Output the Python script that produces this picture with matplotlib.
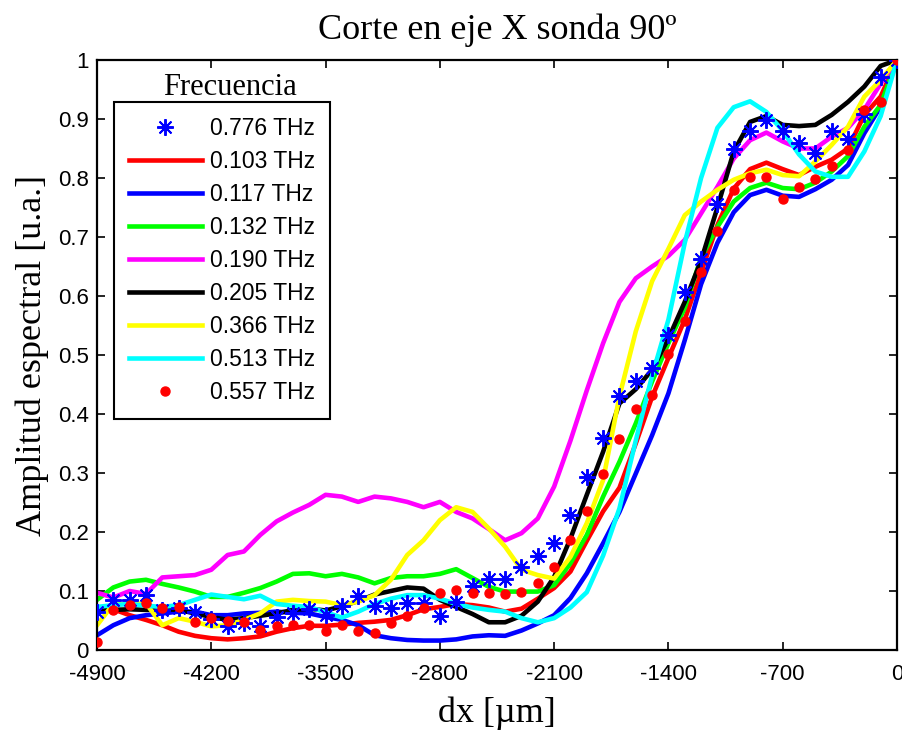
import numpy as np
import matplotlib
matplotlib.use("Agg")
import matplotlib.pyplot as plt

# Spatial positions along the X cut (µm)
dx = np.arange(-4900, 1, 100)

# Normalised spectral amplitude for each frequency
amp_0776 = [0.065, 0.085, 0.085, 0.094, 0.068, 0.071, 0.065, 0.052, 0.040, 0.046,
            0.041, 0.056, 0.062, 0.069, 0.059, 0.075, 0.092, 0.075, 0.071, 0.080,
            0.080, 0.058, 0.082, 0.108, 0.121, 0.121, 0.141, 0.159, 0.181, 0.228,
            0.294, 0.359, 0.431, 0.456, 0.478, 0.534, 0.606, 0.662, 0.756, 0.849,
            0.880, 0.899, 0.880, 0.859, 0.843, 0.879, 0.866, 0.908, 0.972, 1.000]
amp_0103 = [0.073, 0.069, 0.059, 0.051, 0.042, 0.031, 0.024, 0.020, 0.018, 0.020,
            0.023, 0.031, 0.037, 0.041, 0.041, 0.043, 0.046, 0.048, 0.051, 0.059,
            0.069, 0.073, 0.078, 0.076, 0.072, 0.065, 0.070, 0.087, 0.105, 0.133,
            0.185, 0.235, 0.275, 0.350, 0.429, 0.495, 0.560, 0.640, 0.720, 0.782,
            0.815, 0.826, 0.815, 0.805, 0.819, 0.831, 0.850, 0.907, 0.938, 1.000]
amp_0117 = [0.025, 0.042, 0.054, 0.059, 0.062, 0.065, 0.065, 0.059, 0.059, 0.062,
            0.063, 0.065, 0.063, 0.062, 0.056, 0.051, 0.042, 0.025, 0.020, 0.017,
            0.016, 0.016, 0.018, 0.023, 0.025, 0.024, 0.033, 0.045, 0.059, 0.088,
            0.130, 0.181, 0.234, 0.299, 0.364, 0.435, 0.525, 0.620, 0.690, 0.742,
            0.771, 0.780, 0.770, 0.768, 0.781, 0.797, 0.822, 0.876, 0.921, 1.000]
amp_0132 = [0.085, 0.106, 0.116, 0.119, 0.112, 0.106, 0.099, 0.090, 0.090, 0.097,
            0.105, 0.116, 0.129, 0.130, 0.125, 0.129, 0.123, 0.113, 0.122, 0.125,
            0.125, 0.129, 0.137, 0.122, 0.107, 0.099, 0.099, 0.099, 0.110, 0.147,
            0.195, 0.260, 0.319, 0.384, 0.455, 0.520, 0.580, 0.665, 0.717, 0.760,
            0.783, 0.792, 0.783, 0.781, 0.792, 0.811, 0.837, 0.887, 0.924, 1.000]
amp_0190 = [0.097, 0.089, 0.100, 0.095, 0.123, 0.125, 0.127, 0.136, 0.161, 0.167,
            0.195, 0.218, 0.233, 0.246, 0.263, 0.260, 0.251, 0.260, 0.257, 0.251,
            0.242, 0.251, 0.234, 0.223, 0.205, 0.186, 0.198, 0.223, 0.277, 0.355,
            0.440, 0.520, 0.590, 0.630, 0.650, 0.668, 0.695, 0.740, 0.785, 0.833,
            0.864, 0.877, 0.862, 0.850, 0.850, 0.870, 0.885, 0.916, 0.960, 1.000]
amp_0205 = [0.068, 0.068, 0.069, 0.068, 0.069, 0.068, 0.062, 0.056, 0.051, 0.054,
            0.058, 0.062, 0.068, 0.070, 0.067, 0.074, 0.083, 0.094, 0.100, 0.106,
            0.104, 0.085, 0.073, 0.061, 0.047, 0.047, 0.058, 0.082, 0.124, 0.189,
            0.263, 0.336, 0.418, 0.442, 0.475, 0.528, 0.590, 0.660, 0.750, 0.845,
            0.895, 0.905, 0.890, 0.888, 0.890, 0.907, 0.929, 0.955, 0.990, 1.000]
amp_0366 = [0.042, 0.078, 0.078, 0.079, 0.042, 0.054, 0.048, 0.040, 0.042, 0.051,
            0.062, 0.082, 0.085, 0.083, 0.082, 0.076, 0.082, 0.093, 0.119, 0.161,
            0.186, 0.220, 0.242, 0.234, 0.206, 0.175, 0.136, 0.127, 0.121, 0.158,
            0.215, 0.288, 0.430, 0.540, 0.625, 0.680, 0.737, 0.760, 0.780, 0.797,
            0.808, 0.814, 0.805, 0.803, 0.828, 0.856, 0.887, 0.938, 0.966, 1.000]
amp_0513 = [0.073, 0.076, 0.078, 0.075, 0.073, 0.076, 0.085, 0.094, 0.090, 0.086,
            0.092, 0.078, 0.075, 0.073, 0.064, 0.055, 0.065, 0.078, 0.087, 0.093,
            0.093, 0.087, 0.078, 0.072, 0.068, 0.065, 0.054, 0.047, 0.054, 0.072,
            0.098, 0.160, 0.240, 0.355, 0.465, 0.560, 0.690, 0.800, 0.885, 0.920,
            0.930, 0.912, 0.880, 0.840, 0.811, 0.802, 0.802, 0.845, 0.905, 1.000]
amp_0557 = [0.014, 0.068, 0.076, 0.080, 0.071, 0.073, 0.048, 0.055, 0.050, 0.047,
            0.034, 0.040, 0.042, 0.042, 0.033, 0.042, 0.033, 0.029, 0.045, 0.058,
            0.072, 0.096, 0.102, 0.097, 0.097, 0.095, 0.099, 0.113, 0.140, 0.186,
            0.236, 0.298, 0.358, 0.408, 0.433, 0.502, 0.558, 0.640, 0.711, 0.780,
            0.801, 0.801, 0.764, 0.784, 0.798, 0.820, 0.847, 0.916, 0.929, 1.000]

xticks = [-4900, -4200, -3500, -2800, -2100, -1400, -700, 0]
yticks = [0, 0.1, 0.2, 0.3, 0.4, 0.5, 0.6, 0.7, 0.8, 0.9, 1]
ytick_labels = ["0", "0.1", "0.2", "0.3", "0.4", "0.5", "0.6", "0.7", "0.8", "0.9", "1"]

SANS = ["Liberation Sans", "DejaVu Sans"]
SERIF = ["Liberation Serif", "DejaVu Serif"]

fig = plt.figure(figsize=(9.02, 7.31), dpi=100)
ax = fig.add_axes([97 / 902, 81 / 731, 800 / 902, 590 / 731])

lw = 3.3
ax.plot(dx, amp_0776, linestyle="none", marker=(8, 2, 0), markersize=12,
        markeredgewidth=1.4, color=(0, 0, 1), label="0.776 THz", zorder=5)
ax.plot(dx, amp_0103, color=(1, 0, 0), lw=lw, label="0.103 THz", zorder=2)
ax.plot(dx, amp_0117, color=(0, 0, 1), lw=lw, label="0.117 THz", zorder=2)
ax.plot(dx, amp_0132, color=(0, 1, 0), lw=lw, label="0.132 THz", zorder=2)
ax.plot(dx, amp_0190, color=(1, 0, 1), lw=lw, label="0.190 THz", zorder=2)
ax.plot(dx, amp_0205, color=(0, 0, 0), lw=lw, label="0.205 THz", zorder=2)
ax.plot(dx, amp_0366, color=(1, 1, 0), lw=lw, label="0.366 THz", zorder=2)
ax.plot(dx, amp_0513, color=(0, 1, 1), lw=lw, label="0.513 THz", zorder=2)
ax.plot(dx, amp_0557, linestyle="none", marker="o", markersize=6.5,
        color=(1, 0, 0), label="0.557 THz", zorder=6)

ax.set_xlim(-4900, 0)
ax.set_ylim(0, 1)
ax.set_xticks(xticks)
ax.set_xticklabels([str(v) for v in xticks], family=SANS, fontsize=16)
ax.set_yticks(yticks)
ax.set_yticklabels(ytick_labels, family=SANS, fontsize=16)
ax.tick_params(direction="in", top=True, right=True, length=6, width=1.2)
ax.tick_params(axis="x", pad=10)
ax.tick_params(axis="y", pad=6)
for sp in ax.spines.values():
    sp.set_linewidth(1.6)

ax.set_title("Corte en eje X sonda 90º", family=SERIF, fontsize=26, pad=15)
ax.set_xlabel("dx [µm]", family=SERIF, fontsize=26, labelpad=8)
ax.set_ylabel("Amplitud espectral [u.a.]", family=SERIF, fontsize=26, labelpad=6)

leg = ax.legend(loc="upper left", bbox_to_anchor=(0.021, 0.928), borderaxespad=0,
                prop={"family": SANS, "size": 16.5}, handlelength=3.2,
                handletextpad=0.35, labelspacing=0.435, borderpad=0.65,
                fancybox=False, framealpha=1, edgecolor="black")
leg.get_frame().set_linewidth(1.5)

ax.text(0.166, 0.953, "Frecuencia", transform=ax.transAxes, ha="center",
        va="center", family=SERIF, fontsize=22)

fig.savefig("out.png", dpi=100)
